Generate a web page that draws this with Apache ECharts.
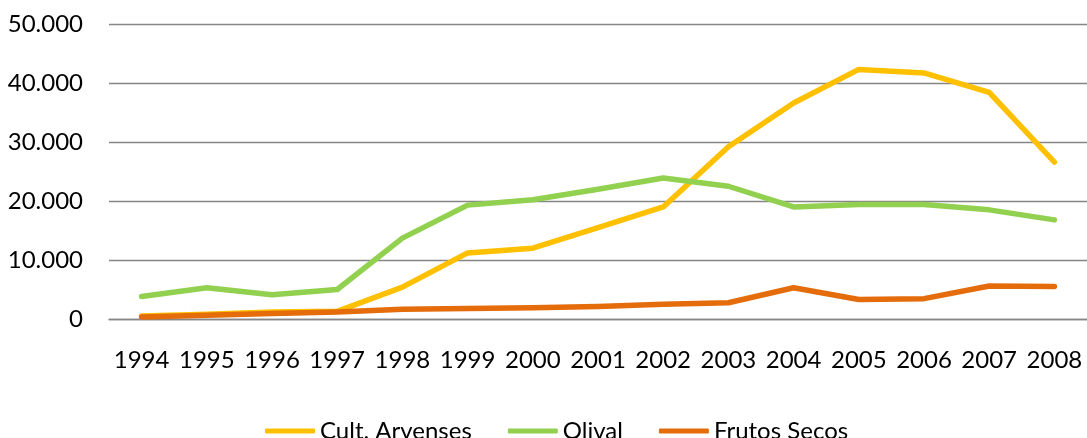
<!DOCTYPE html>
<html>
<head>
<meta charset="utf-8">
<script src="https://cdn.jsdelivr.net/npm/echarts@6/dist/echarts.min.js"></script>
<style>
html, body { margin: 0; padding: 0; background: #fff; }
#chart { width: 1087px; height: 438px; }
</style>
</head>
<body>
<div id="chart"></div>
<script>
var YEARS = ['1994','1995','1996','1997','1998','1999','2000','2001','2002','2003','2004','2005','2006','2007','2008'];
var CULT_ARVENSES = [500, 800, 1200, 1300, 5400, 11200, 12000, 15500, 19000, 29200, 36600, 42300, 41700, 38400, 26600];
var OLIVAL = [3800, 5300, 4100, 5000, 13700, 19300, 20200, 22000, 23900, 22500, 19000, 19400, 19400, 18500, 16800];
var FRUTOS_SECOS = [350, 650, 950, 1200, 1650, 1800, 1900, 2100, 2500, 2750, 5300, 3300, 3450, 5600, 5500];

function fmt(v) {
	return String(v).replace(/\B(?=(\d{3})+(?!\d))/g, '.');
}

var FONT = 'Lato';

function lineSeries(name, data, color) {
	return {
		name: name,
		type: 'line',
		data: data,
		symbol: 'none',
		showSymbol: false,
		animation: false,
		lineStyle: { color: color, width: 5.5, cap: 'round', join: 'round' },
		itemStyle: { color: color }
	};
}

var myChart = echarts.init(document.getElementById('chart'));

myChart.setOption({
	animation: false,
	grid: { left: 109, right: -8, top: 24, bottom: 119 },
	xAxis: {
		type: 'category',
		data: YEARS,
		boundaryGap: true,
		axisLine: { lineStyle: { color: '#868686', width: 1.3 } },
		axisTick: { show: false },
		axisLabel: { color: '#000', fontFamily: FONT, fontSize: 24, margin: 29, interval: 0 }
	},
	yAxis: {
		type: 'value',
		min: 0,
		max: 50000,
		interval: 10000,
		axisLine: { show: false },
		axisTick: { show: false },
		splitLine: { lineStyle: { color: '#868686', width: 1.3 } },
		axisLabel: { color: '#000', fontFamily: FONT, fontSize: 24, margin: 26, formatter: fmt }
	},
	legend: {
		top: 414,
		left: 260,
		icon: 'roundRect',
		itemWidth: 50,
		itemHeight: 5,
		itemGap: 36,
		textStyle: { color: '#000', fontFamily: FONT, fontSize: 24, padding: [0, 0, 0, 0] },
		data: ['Cult. Arvenses', 'Olival', 'Frutos Secos']
	},
	series: [
		lineSeries('Cult. Arvenses', CULT_ARVENSES, '#FFC000'),
		lineSeries('Olival', OLIVAL, '#92D050'),
		lineSeries('Frutos Secos', FRUTOS_SECOS, '#E46C0A')
	]
});
</script>
</body>
</html>
